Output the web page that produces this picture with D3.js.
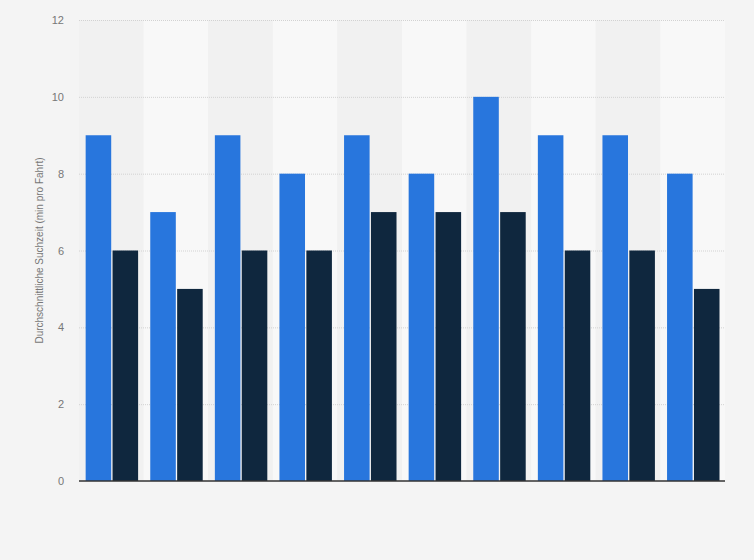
<!DOCTYPE html>
<html>
<head>
<meta charset="utf-8">
<style>
  body { margin: 0; background: #f4f4f4; }
  svg { display: block; font-family: Arial, "Liberation Sans", sans-serif; }
</style>
</head>
<body>
<svg id="chart" width="754" height="560"></svg>
<script src="https://cdn.jsdelivr.net/npm/d3@7"></script>
<script>
// groups have no visible labels in the reference
let groups = ["1", "2", "3", "4", "5", "6", "7", "8", "9", "10"]
let series = ["a", "b"]
let valuesA = [9, 7, 9, 8, 9, 8, 10, 9, 9, 8]
let valuesB = [6, 5, 6, 6, 7, 7, 7, 6, 6, 5]
let yTicks = [0, 2, 4, 6, 8, 10, 12]
let colors = ["#2876dd", "#0f273e"]

let svg = d3.select("#chart")
let mLeft = 79, mRight = 725, mTop = 20, mBottom = 481

let x0 = d3.scaleBand().domain(groups).range([mLeft, mRight])
let bw = x0.bandwidth()
let x1 = d3.scaleBand().domain(series).range([bw * 0.103, bw * 0.915]).paddingInner(0.05)
let y = d3.scaleLinear().domain([0, 12]).range([mBottom, mTop])

// alternating column stripes
svg.append("g").selectAll("rect")
  .data(groups)
  .join("rect")
  .attr("x", d => x0(d))
  .attr("y", mTop)
  .attr("width", bw)
  .attr("height", mBottom - mTop)
  .attr("fill", (d, i) => i % 2 ? "#f8f8f8" : "#f1f1f1")

// grid
let grid = d3.axisLeft(y).tickValues(yTicks.slice(1)).tickSize(-(mRight - mLeft)).tickFormat("")
svg.append("g")
  .attr("transform", `translate(${mLeft},0)`)
  .call(grid)
  .call(g => g.select(".domain").remove())
  .call(g => g.selectAll("line").attr("stroke", "#d2d2d2").attr("stroke-dasharray", "1,1"))

// bars
let rows = groups.map((g, i) => ({ g: g, vals: [valuesA[i], valuesB[i]] }))
svg.append("g").selectAll("g")
  .data(rows)
  .join("g")
  .attr("transform", d => `translate(${x0(d.g)},0)`)
  .selectAll("rect")
  .data(d => d.vals.map((v, k) => ({ s: series[k], v: v, k: k })))
  .join("rect")
  .attr("x", d => x1(d.s))
  .attr("y", d => y(d.v))
  .attr("width", x1.bandwidth())
  .attr("height", d => y(0) - y(d.v))
  .attr("fill", d => colors[d.k])

// baseline
svg.append("line")
  .attr("x1", mLeft).attr("x2", mRight)
  .attr("y1", y(0)).attr("y2", y(0))
  .attr("stroke", "#333").attr("stroke-width", 1.5)

// y tick labels
let yAxis = d3.axisLeft(y).tickValues(yTicks).tickSize(0).tickPadding(15)
svg.append("g")
  .attr("transform", `translate(${mLeft},0)`)
  .call(yAxis)
  .call(g => g.select(".domain").remove())
  .call(g => g.selectAll("text").attr("fill", "#777").style("font-size", "11px"))

svg.append("text")
  .text("Durchschnittliche Suchzeit (min pro Fahrt)")
  .attr("text-anchor", "middle")
  .attr("transform", `translate(43,${(mTop + mBottom) / 2}) rotate(-90)`)
  .attr("fill", "#777")
  .style("font-size", "10px")
</script>
</body>
</html>
